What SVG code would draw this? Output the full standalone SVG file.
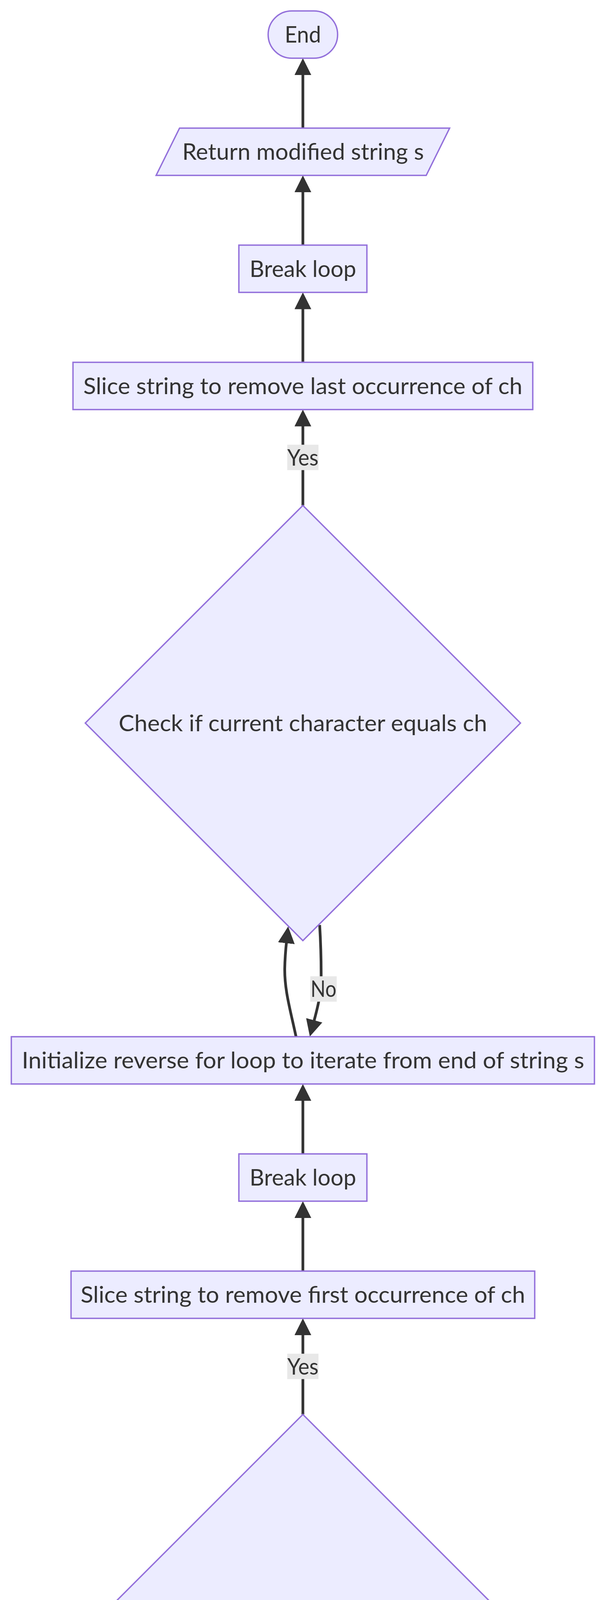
<svg xmlns="http://www.w3.org/2000/svg" width="1568" height="5790" viewBox="0 0 1568 5790">
<style>
.node{fill:#ECECFF;stroke:#9370DB;stroke-width:3.5}
.lbl{font-family:Lato,"Liberation Sans",sans-serif;font-size:57.6px;fill:#333333;text-anchor:middle}
.edge{fill:none;stroke:#333333;stroke-width:7}
.ebg{fill:#e8e8e8}
</style>
<defs>
<marker id="arrow" viewBox="0 0 10 10" refX="1.63" refY="5" markerWidth="43" markerHeight="43" markerUnits="userSpaceOnUse" orient="auto">
<path d="M0,0 L10,5 L0,10 z" fill="#333333"/>
</marker>
</defs>
<rect width="1568" height="5790" fill="#ffffff"/>
<g id="connectors">
<path class="edge" marker-end="url(#arrow)" d="M776,328 L776,185"/>
<path class="edge" marker-end="url(#arrow)" d="M776,627.5 L776,485"/>
<path class="edge" marker-end="url(#arrow)" d="M776,927.5 L776,784.5"/>
<path class="edge" marker-end="url(#arrow)" d="M776,1294 L776,1084.5"/>
<path class="edge" marker-end="url(#arrow)" d="M758.5,2654 C743,2582 729,2535 729.5,2480 C730,2450 732.5,2425 734.4,2407.6"/>
<path class="edge" marker-end="url(#arrow)" d="M819,2368 C821.5,2410 823,2450 822.8,2500 C822.6,2545 815,2575 803.2,2618.7"/>
<path class="edge" marker-end="url(#arrow)" d="M776,2954 L776,2811"/>
<path class="edge" marker-end="url(#arrow)" d="M776,3254 L776,3111"/>
<path class="edge" marker-end="url(#arrow)" d="M776,3621 L776,3411"/>
<path class="edge" marker-end="url(#arrow)" d="M758.5,4981 C743,4909 729,4862 729.5,4807 C730,4777 732.5,4752 734.4,4734.6"/>
<path class="edge" marker-end="url(#arrow)" d="M819,4695 C821.5,4737 823,4777 822.8,4827 C822.6,4872 815,4902 803.2,4945.7"/>
<path class="edge" marker-end="url(#arrow)" d="M776,5281 L776,5138"/>
<path class="edge" marker-end="url(#arrow)" d="M776,5581 L776,5438"/>
<g id="edge-labels">
<rect class="ebg" x="736" y="1138.5" width="80" height="65"/>
<text class="lbl" x="776" y="1191.5" textLength="80" lengthAdjust="spacingAndGlyphs">Yes</text>
<rect class="ebg" x="795" y="2499.3" width="67.7" height="65"/>
<text class="lbl" x="828.85" y="2552.3" textLength="66" lengthAdjust="spacingAndGlyphs">No</text>
<rect class="ebg" x="736" y="3465.5" width="80" height="65"/>
<text class="lbl" x="776" y="3518.5" textLength="80" lengthAdjust="spacingAndGlyphs">Yes</text>
<rect class="ebg" x="795" y="4826.3" width="67.7" height="65"/>
<text class="lbl" x="828.85" y="4879.3" textLength="66" lengthAdjust="spacingAndGlyphs">No</text>
</g>
</g>
<g id="End">
<rect class="node" x="687" y="28" width="178" height="121" rx="60.5" ry="60.5"/>
<text class="lbl" x="776" y="109" textLength="93" lengthAdjust="spacingAndGlyphs">End</text>
</g>
<g id="Return">
<polygon class="node" points="460,328 1152,328 1092,449 400,449"/>
<text class="lbl" x="776.5" y="409" textLength="619" lengthAdjust="spacingAndGlyphs">Return modified string s</text>
</g>
<g id="Break1">
<rect class="node" x="612" y="627.5" width="328" height="121"/>
<text class="lbl" x="776" y="708.5" textLength="273" lengthAdjust="spacingAndGlyphs">Break loop</text>
</g>
<g id="SliceLast">
<rect class="node" x="187" y="927.5" width="1178" height="121"/>
<text class="lbl" x="776" y="1008.5" textLength="1125" lengthAdjust="spacingAndGlyphs">Slice string to remove last occurrence of ch</text>
</g>
<g id="Check1">
<polygon class="node" points="776,1294 1333.5,1851 776,2408 218.5,1851"/>
<text class="lbl" x="776" y="1871.5" textLength="944" lengthAdjust="spacingAndGlyphs">Check if current character equals ch</text>
</g>
<g id="InitReverse">
<rect class="node" x="29" y="2654" width="1494" height="121"/>
<text class="lbl" x="776.5" y="2735" textLength="1441" lengthAdjust="spacingAndGlyphs">Initialize reverse for loop to iterate from end of string s</text>
</g>
<g id="Break2">
<rect class="node" x="612" y="2954" width="328" height="121"/>
<text class="lbl" x="776" y="3035" textLength="273" lengthAdjust="spacingAndGlyphs">Break loop</text>
</g>
<g id="SliceFirst">
<rect class="node" x="182" y="3254" width="1188" height="121"/>
<text class="lbl" x="776" y="3335" textLength="1139" lengthAdjust="spacingAndGlyphs">Slice string to remove first occurrence of ch</text>
</g>
<g id="Check2">
<polygon class="node" points="776,3621 1333.5,4178 776,4735 218.5,4178"/>
<text class="lbl" x="776" y="4198.5" textLength="944" lengthAdjust="spacingAndGlyphs">Check if current character equals ch</text>
</g>
<g id="InitFor">
<rect class="node" x="228" y="4981" width="1096" height="121"/>
<text class="lbl" x="777" y="5062" textLength="1044" lengthAdjust="spacingAndGlyphs">Initialize for loop to iterate over string s</text>
</g>
<g id="Define">
<rect class="node" x="48" y="5281" width="1456" height="121"/>
<text class="lbl" x="776" y="5362" textLength="1402" lengthAdjust="spacingAndGlyphs">Define function remove_Occ with parameters s and ch</text>
</g>
<g id="Start">
<rect class="node" x="671" y="5581" width="210" height="121" rx="60.5" ry="60.5"/>
<text class="lbl" x="776" y="5662" textLength="127" lengthAdjust="spacingAndGlyphs">Start</text>
</g>
</svg>
